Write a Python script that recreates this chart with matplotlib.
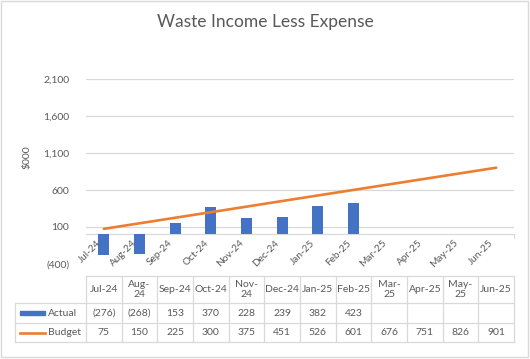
import numpy as np
import matplotlib.pyplot as plt
from matplotlib.transforms import offset_copy

# data
months = ['Jul-24', 'Aug-24', 'Sep-24', 'Oct-24', 'Nov-24', 'Dec-24',
          'Jan-25', 'Feb-25', 'Mar-25', 'Apr-25', 'May-25', 'Jun-25']
header_labels = ['Jul-24', 'Aug-\n24', 'Sep-24', 'Oct-24', 'Nov-\n24', 'Dec-24',
                 'Jan-25', 'Feb-25', 'Mar-\n25', 'Apr-25', 'May-\n25', 'Jun-25']
actual = [-276, -268, 153, 370, 228, 239, 382, 423]
budget = [75, 150, 225, 300, 375, 451, 526, 601, 676, 751, 826, 901]
yticks = [-400, 100, 600, 1100, 1600, 2100]
ytick_labels = ['(400)', '100', '600', '1,100', '1,600', '2,100']


def fmt(v):
    return '({})'.format(abs(v)) if v < 0 else str(v)


plt.rcParams['font.family'] = ['Lato', 'DejaVu Sans']
TXT = '#595959'
GRID = '#D9D9D9'
BLUE = '#4472C4'
ORANGE = '#ED7D31'

W, H = 530, 359
fig = plt.figure(figsize=(W / 100, H / 100), dpi=100)

# plot area in pixels
left, right, top, bottom = 86, 514, 79, 264
ax = fig.add_axes([left / W, 1 - bottom / H, (right - left) / W, (bottom - top) / H])
x = np.arange(len(months))
ax.bar(x[:len(actual)], actual, width=0.31, color=BLUE, zorder=3)
ax.plot(x, budget, color=ORANGE, lw=1.9, solid_capstyle='round', zorder=4)
ax.set_xlim(-0.5, len(months) - 0.5)
ax.set_ylim(yticks[0], yticks[-1])
ax.set_yticks(yticks)
ax.set_yticklabels(ytick_labels)
ax.set_xticks([])
ax.tick_params(axis='y', length=0, pad=12, labelsize=7.5, labelcolor=TXT)
for v in yticks[1:]:
    ax.axhline(v, color=GRID, lw=0.9, zorder=1)
ax.axhline(0, color=GRID, lw=0.9, zorder=2)
for s in ax.spines.values():
    s.set_visible(False)

# rotated category labels under the zero line
lab_tr = offset_copy(ax.transData, fig=fig, x=-4, y=-7, units='dots')
for i, m in enumerate(months):
    ax.text(i, 0, m, rotation=45, ha='right', va='center', rotation_mode='anchor',
            fontsize=7.2, color=TXT, transform=lab_tr, clip_on=False)

# overlay in pixel coordinates for the table, title and frame
ov = fig.add_axes([0, 0, 1, 1], zorder=-1)
ov.set_xlim(0, W)
ov.set_ylim(H, 0)
ov.axis('off')

ov.add_patch(plt.Rectangle((1, 1), W - 3, H - 3, fill=False, ec=GRID, lw=1))
ov.text(265, 22, 'Waste Income Less Expense', ha='center', va='center',
        fontsize=12.5, color=TXT)
ov.text(27, 157, '$000', rotation=90, ha='center', va='center', fontsize=7.5, color=TXT)

# category axis ticks at the zero line
zero_px = top + (yticks[-1] - 0) / (yticks[-1] - yticks[0]) * (bottom - top)
col_edges = left + np.arange(len(months) + 1) * (right - left) / len(months)
for ce in col_edges:
    ov.plot([ce, ce], [zero_px, zero_px + 4], color=GRID, lw=0.9)

# data table
rows = [276, 303, 323, 342]
tab_left = 15
ov.plot([left, right], [rows[0], rows[0]], color=GRID, lw=0.9)
for r in rows[1:]:
    ov.plot([tab_left, right], [r, r], color=GRID, lw=0.9)
ov.plot([tab_left, tab_left], [rows[1], rows[3]], color=GRID, lw=0.9)
for ce in col_edges:
    ov.plot([ce, ce], [rows[0], rows[3]], color=GRID, lw=0.9)

mids = (col_edges[:-1] + col_edges[1:]) / 2
ym = [(rows[k] + rows[k + 1]) / 2 for k in range(3)]
for i, lab in enumerate(header_labels):
    ov.text(mids[i], ym[0], lab, ha='center', va='center', fontsize=7.5,
            color=TXT, linespacing=1.25)
for i, v in enumerate(actual):
    ov.text(mids[i], ym[1], fmt(v), ha='center', va='center', fontsize=7.5, color=TXT)
for i, v in enumerate(budget):
    ov.text(mids[i], ym[2], fmt(v), ha='center', va='center', fontsize=7.5, color=TXT)

ov.add_patch(plt.Rectangle((20, ym[1] - 2), 25, 4, color=BLUE))
ov.plot([20, 45], [ym[2], ym[2]], color=ORANGE, lw=1.9)
ov.text(48, ym[1], 'Actual', ha='left', va='center', fontsize=7.5, color=TXT)
ov.text(48, ym[2], 'Budget', ha='left', va='center', fontsize=7.5, color=TXT)

fig.savefig('out.png', dpi=100, facecolor='white')
